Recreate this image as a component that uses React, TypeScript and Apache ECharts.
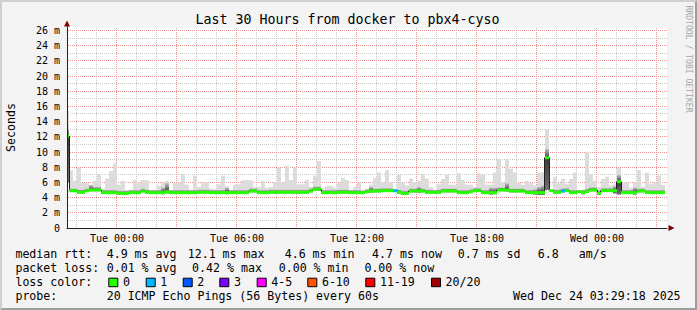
import React, { useEffect, useRef } from "react";
import * as echarts from "echarts";

// ---------- text ----------
const TITLE = "Last 30 Hours from docker to pbx4-cyso";
const Y_NAME = "Seconds";
const WATERMARK = "RRDTOOL / TOBI OETIKER";

// ---------- axes (minutes relative to Tue 00:00) ----------
const X_MIN = -150;
const X_MAX = 1650;
const Y_MIN = 0;
const Y_MAX = 26.5;
const STEP_MINUTES = 12;
const FIRST_STEP_START = -156;

const xLabelMinutes = [0, 360, 720, 1080, 1440];
const xLabelTexts = ["Tue 00:00", "Tue 06:00", "Tue 12:00", "Tue 18:00", "Wed 00:00"];
const xMajorGrid = [0, 180, 360, 540, 720, 900, 1080, 1260, 1440, 1620];
const xMinorGrid = [-120, -60, 60, 120, 240, 300, 420, 480, 600, 660, 780, 840, 960, 1020, 1140, 1200, 1320, 1380, 1500, 1560];
const yLabelValues = [0, 2, 4, 6, 8, 10, 12, 14, 16, 18, 20, 22, 24, 26];
const yMajorGrid = [2, 4, 6, 8, 10, 12, 14, 16, 18, 20, 22, 24, 26];
const yMinorGrid = [1, 3, 5, 7, 9, 11, 13, 15, 17, 19, 21, 23, 25];

// ---------- data (ms), one entry per 12-minute step ----------
const medianRtt = [
  12.1,
  4.9, 4.9, 4.7, 4.7, 4.9, 5.0, 5.0, 5.0, 4.65, 4.65,
  4.65, 4.65, 4.56, 4.56, 4.56, 4.65, 4.65, 4.65, 4.87, 4.7,
  4.65, 4.65, 4.65, 4.65, 4.78, 4.65, 4.65, 4.65, 4.65, 4.65,
  4.65, 4.65, 4.7, 4.7, 4.7, 4.65, 4.65, 4.65, 4.65, 4.65,
  4.65, 4.65, 4.65, 4.65, 4.65, 4.87, 4.87, 4.65, 4.65, 4.65,
  4.7, 4.7, 4.7, 4.7, 4.7, 4.7, 4.7, 4.7, 4.7, 4.7,
  4.87, 5.1, 5.1, 4.65, 4.65, 4.65, 4.65, 4.7, 4.7, 4.7,
  4.65, 4.65, 4.65, 4.65, 4.78, 4.87, 4.87, 4.87, 4.91, 4.91,
  4.91, 4.91, 4.7, 4.56, 4.56, 4.87, 4.87, 4.87, 4.87, 4.7,
  4.7, 4.7, 4.7, 4.87, 4.87, 4.87, 4.87, 4.65, 4.65, 4.65,
  4.78, 4.91, 4.91, 4.65, 4.65, 4.65, 4.65, 5.0, 5.0, 5.0,
  4.87, 4.87, 4.87, 4.87, 4.65, 4.65, 4.65, 4.65, 4.65, 9.25,
  4.91, 4.7, 4.7, 4.87, 4.91, 4.65, 4.65, 4.78, 4.65, 4.8,
  5.0, 5.0, 4.56, 4.91, 4.91, 4.91, 4.91, 6.1, 4.65, 4.65,
  4.65, 4.65, 4.87, 4.87, 4.65, 4.65, 4.65, 4.65, 4.65,
];

const smokeHigh = [
  15.5,
  7.6, 6.2, 7.9, 5.9, 5.9, 5.7, 6.2, 7.1, 5.2, 6.5,
  7.5, 8.5, 5.7, 6.2, 5.0, 5.0, 6.3, 5.9, 6.3, 6.3,
  5.0, 5.0, 5.6, 6.0, 6.2, 5.0, 5.9, 5.9, 7.1, 5.7,
  5.0, 6.9, 5.4, 6.0, 6.0, 5.2, 5.1, 5.75, 6.9, 5.5,
  5.0, 5.7, 5.75, 6.3, 6.3, 6.3, 5.4, 5.4, 6.2, 5.3,
  5.4, 6.0, 7.9, 6.0, 8.2, 6.3, 8.0, 5.75, 5.75, 6.3,
  5.4, 6.9, 8.8, 5.0, 5.5, 5.5, 5.3, 5.9, 6.6, 6.3,
  5.0, 5.4, 6.0, 4.95, 5.1, 5.7, 6.6, 7.3, 6.0, 7.6,
  6.0, 5.0, 7.0, 6.0, 5.6, 6.5, 6.0, 6.2, 7.1, 6.5,
  5.4, 5.0, 5.75, 6.45, 7.0, 5.7, 5.7, 7.2, 6.3, 5.7,
  5.7, 5.4, 7.2, 7.0, 5.7, 5.7, 7.3, 9.1, 6.0, 9.1,
  7.8, 7.3, 5.9, 5.7, 6.2, 5.9, 5.6, 7.3, 7.3, 12.9,
  5.0, 6.75, 5.9, 6.5, 5.75, 6.45, 7.3, 5.0, 5.0, 10.0,
  7.1, 6.2, 5.4, 6.45, 6.75, 5.6, 5.75, 7.9, 6.0, 6.0,
  5.3, 6.0, 7.6, 5.4, 7.3, 5.75, 6.0, 6.9, 5.66,
];

const smokeLow = [
  6.0,
  4.75, 4.75, 4.55, 4.55, 4.75, 4.85, 4.85, 4.85, 4.5, 4.5,
  4.5, 4.5, 4.4, 4.4, 4.4, 4.5, 4.5, 4.5, 4.7, 4.55,
  4.5, 4.5, 4.5, 4.45, 4.55, 4.5, 4.5, 4.5, 4.5, 4.5,
  4.5, 4.5, 4.55, 4.55, 4.55, 4.5, 4.5, 4.5, 4.5, 4.45,
  4.5, 4.5, 4.5, 4.5, 4.5, 4.7, 4.7, 4.5, 4.5, 4.5,
  4.55, 4.55, 4.55, 4.55, 4.55, 4.55, 4.55, 4.55, 4.55, 4.55,
  4.7, 4.95, 4.95, 4.5, 4.5, 4.5, 4.5, 4.55, 4.55, 4.55,
  4.5, 4.5, 4.5, 4.5, 4.6, 4.65, 4.7, 4.7, 4.75, 4.75,
  4.75, 4.75, 4.55, 4.4, 4.4, 4.7, 4.7, 4.65, 4.7, 4.55,
  4.55, 4.55, 4.55, 4.7, 4.7, 4.7, 4.7, 4.5, 4.5, 4.5,
  4.6, 4.75, 4.75, 4.5, 4.5, 4.4, 4.45, 4.85, 4.85, 4.8,
  4.7, 4.7, 4.7, 4.7, 4.5, 4.5, 4.4, 4.35, 4.35, 5.0,
  4.75, 4.55, 4.55, 4.7, 4.75, 4.5, 4.5, 4.6, 4.45, 4.65,
  4.85, 4.85, 4.4, 4.75, 4.75, 4.75, 4.55, 4.4, 4.5, 4.5,
  4.5, 4.4, 4.7, 4.7, 4.5, 4.5, 4.5, 4.5, 4.5,
];

const smokeCore = [
  13.1,
  5.2, 5.2, 5.05, 5.05, 5.2, 5.66, 5.4, 5.4, 5.0, 5.0,
  5.0, 5.0, 4.9, 4.9, 4.9, 5.0, 5.0, 5.0, 5.2, 5.05,
  5.0, 5.0, 5.0, 5.3, 5.9, 5.0, 5.0, 5.0, 5.0, 5.0,
  5.0, 5.0, 5.05, 5.05, 5.05, 5.0, 5.0, 5.0, 5.0, 5.3,
  5.0, 5.0, 5.0, 5.0, 5.0, 5.2, 5.2, 5.0, 5.0, 5.0,
  5.05, 5.05, 5.05, 5.05, 5.05, 5.05, 5.05, 5.05, 5.05, 5.05,
  5.2, 5.45, 5.45, 5.0, 5.0, 5.0, 5.0, 5.05, 5.05, 5.05,
  5.0, 5.0, 5.0, 4.95, 5.1, 5.4, 5.2, 5.2, 5.25, 5.25,
  5.25, 5.0, 5.05, 4.9, 4.9, 5.2, 5.2, 5.4, 5.2, 5.05,
  5.05, 5.0, 5.05, 5.2, 5.2, 5.2, 5.2, 5.0, 5.0, 5.0,
  5.1, 5.25, 5.25, 5.0, 5.0, 5.3, 5.3, 5.35, 5.35, 5.9,
  5.2, 5.2, 5.2, 5.2, 5.0, 5.0, 5.1, 5.4, 5.6, 10.4,
  5.0, 5.05, 5.05, 5.2, 5.25, 5.0, 5.0, 5.0, 5.0, 5.15,
  5.35, 5.35, 4.9, 5.25, 5.25, 5.25, 5.5, 7.0, 5.0, 5.0,
  5.0, 5.3, 5.2, 5.2, 5.0, 5.0, 5.0, 5.0, 5.0,
];

// steps with packet loss (index into the arrays above) and lost pings out of 20
const lossStepIndex = [82, 124];
const lossStepCount = [1, 1];

// ---------- legend ----------
const lossLegendLabels = ["0", "1", "2", "3", "4-5", "6-10", "11-19", "20/20"];
const lossLegendColors = ["#26ff00", "#00b8ff", "#0059ff", "#7e00ff", "#ff00ff", "#ff5500", "#ff0000", "#a10000"];
const lossLegendMax = [0, 1, 2, 3, 5, 10, 19, 20];

const rttRowLabel = "median rtt:";
const rttRowItems = ["4.9 ms avg", "12.1 ms max", "4.6 ms min", "4.7 ms now", "0.7 ms sd", "6.8", "am/s"];
const lossRowLabel = "packet loss:";
const lossRowItems = ["0.01 % avg", "0.42 % max", "0.00 % min", "0.00 % now"];
const colorRowLabel = "loss color:";
const probeRowLabel = "probe:";
const probeText = "20 ICMP Echo Pings (56 Bytes) every 60s";
const stampText = "Wed Dec 24 03:29:18 2025";

// ---------- layout ----------
const W = 697;
const H = 310;
const FONT = "DejaVu Sans Mono";
const rttRowX = [106.7, 187.7, 284.7, 372.1, 457.7, 537.7, 578.7];
const lossRowX = [106.7, 192.1, 278.7, 364.4];
const swatchX = [108.3, 145.7, 182.7, 219.3, 256.7, 307.3, 365.3, 431];
const rowY = [253.6, 267.7, 281.8, 295.9];
const GRID_GRAY = "#c8c8c8";
const GRID_RED = "#ea9292";

function lossColor(n: number) {
  for (let i = 0; i < lossLegendMax.length; i++) {
    if (n <= lossLegendMax[i]) return lossLegendColors[i];
  }
  return lossLegendColors[lossLegendColors.length - 1];
}

function buildRows() {
  const loss = medianRtt.map(() => 0);
  lossStepIndex.forEach((idx, k) => {
    loss[idx] = lossStepCount[k];
  });
  return medianRtt.map((m, i) => [
    FIRST_STEP_START + i * STEP_MINUTES,
    smokeLow[i],
    smokeCore[i],
    smokeHigh[i],
    m,
    loss[i],
  ]);
}

type GridLine = { value: number; vertical: boolean; major: boolean };
function buildGridLines(): GridLine[] {
  return [
    ...xMinorGrid.map((v) => ({ value: v, vertical: true, major: false })),
    ...yMinorGrid.map((v) => ({ value: v, vertical: false, major: false })),
    ...xMajorGrid.map((v) => ({ value: v, vertical: true, major: true })),
    ...yMajorGrid.map((v) => ({ value: v, vertical: false, major: true })),
  ];
}

function text(x: number, y: number, str: string, size: number, extra: any = {}) {
  return {
    type: "text",
    x,
    y,
    silent: true,
    rotation: extra.rotation || 0,
    style: {
      text: str,
      fill: extra.fill || "#000",
      fontSize: size,
      fontFamily: FONT,
      align: extra.align || "left",
      textAlign: extra.align || "left",
      verticalAlign: "middle",
      textVerticalAlign: "middle",
    },
    z: 10,
  };
}

function buildOption() {
  const rows = buildRows();
  const gridLines = buildGridLines();

  const stepSpan = (api: any) => {
    const t = api.value(0);
    return [Math.max(t, X_MIN), Math.min(t + STEP_MINUTES, X_MAX)];
  };

  const graphics: any[] = [];
  // 3D border
  graphics.push({
    type: "polygon",
    silent: true,
    shape: { points: [[0, H], [2, H - 2], [2, 2], [W - 2, 2], [W, 0], [0, 0]] },
    style: { fill: "#cfcfcf" },
    z: 10,
  });
  graphics.push({
    type: "polygon",
    silent: true,
    shape: { points: [[2, H - 2], [W - 2, H - 2], [W - 2, 2], [W, 0], [W, H], [0, H]] },
    style: { fill: "#9e9e9e" },
    z: 10,
  });
  // axis arrows
  graphics.push({
    type: "polygon",
    silent: true,
    shape: { points: [[64, 26.5], [70, 26.5], [67, 20.5]] },
    style: { fill: "#7f0000" },
    z: 10,
  });
  graphics.push({
    type: "polygon",
    silent: true,
    shape: { points: [[668.5, 225], [668.5, 231], [674.5, 228]] },
    style: { fill: "#7f0000" },
    z: 10,
  });
  graphics.push(text(347.5, 19, TITLE, 13.3, { align: "center" }));
  graphics.push(text(11, 127.5, Y_NAME, 11.6, { align: "center", rotation: Math.PI / 2 }));
  graphics.push(text(688.5, 59, WATERMARK, 8.1, { align: "center", rotation: -Math.PI / 2, fill: "#a8a8a8" }));

  graphics.push(text(15.4, rowY[0], rttRowLabel, 11.6));
  rttRowItems.forEach((s, i) => graphics.push(text(rttRowX[i], rowY[0], s, 11.6)));
  graphics.push(text(15.4, rowY[1], lossRowLabel, 11.6));
  lossRowItems.forEach((s, i) => graphics.push(text(lossRowX[i], rowY[1], s, 11.6)));
  graphics.push(text(15.4, rowY[2], colorRowLabel, 11.6));
  lossLegendLabels.forEach((s, i) => {
    graphics.push({
      type: "rect",
      silent: true,
      shape: { x: swatchX[i] + 0.5, y: 278.2, width: 9, height: 8.5 },
      style: { fill: lossLegendColors[i], stroke: "#000", lineWidth: 1 },
      z: 10,
    });
    graphics.push(text(swatchX[i] + 14.6, rowY[2], s, 11.6));
  });
  graphics.push(text(15.4, rowY[3], probeRowLabel, 11.6));
  graphics.push(text(106.7, rowY[3], probeText, 11.6));
  graphics.push(text(680.6, rowY[3], stampText, 11.6, { align: "right" }));

  return {
    animation: false,
    backgroundColor: "#f3f3f3",
    textStyle: { fontFamily: FONT },
    grid: {
      left: 67,
      right: 30,
      top: 26.6,
      bottom: 82,
      show: true,
      backgroundColor: "#ffffff",
      borderWidth: 0,
    },
    xAxis: {
      type: "value",
      min: X_MIN,
      max: X_MAX,
      position: "bottom",
      z: 5,
      axisLine: { show: true, onZero: false, lineStyle: { color: "#222", width: 1 } },
      axisTick: { show: false, customValues: xMajorGrid },
      axisLabel: {
        customValues: xLabelMinutes,
        formatter: (v: number) => xLabelTexts[xLabelMinutes.indexOf(v)] ?? "",
        fontFamily: FONT,
        fontSize: 10,
        color: "#000",
        margin: 5,
      },
      splitLine: { show: false },
    },
    yAxis: {
      type: "value",
      min: Y_MIN,
      max: Y_MAX,
      position: "left",
      z: 5,
      axisLine: { show: true, onZero: false, lineStyle: { color: "#222", width: 1 } },
      axisTick: { show: false, customValues: yMajorGrid },
      axisLabel: {
        customValues: yLabelValues,
        formatter: (v: number) => (v === 0 ? "0" : `${v} m`),
        fontFamily: FONT,
        fontSize: 10,
        color: "#000",
        margin: 7,
      },
      splitLine: { show: false },
    },
    series: [
      {
        name: "grid",
        type: "custom",
        coordinateSystem: "cartesian2d",
        silent: true,
        z: 1,
        data: gridLines.map((g) => [g.vertical ? g.value : X_MIN, g.vertical ? Y_MIN : g.value]),
        renderItem: (params: any, api: any) => {
          const g = gridLines[params.dataIndex];
          const [left, bottom] = api.coord([X_MIN, Y_MIN]);
          const [right, top] = api.coord([X_MAX, Y_MAX]);
          const fill = g.major ? GRID_RED : GRID_GRAY;
          const children: any[] = [];
          if (g.vertical) {
            const x = Math.round(api.coord([g.value, Y_MIN])[0]) - 1;
            for (let y = Math.round(bottom) - 2; y >= Math.ceil(top); y -= 2) {
              children.push({ type: "rect", shape: { x, y, width: 1, height: 1 }, style: { fill } });
            }
          } else {
            const y = Math.floor(api.coord([X_MIN, g.value])[1]);
            for (let x = Math.round(left) + 1; x < Math.round(right); x += 2) {
              children.push({ type: "rect", shape: { x, y, width: 1, height: 1 }, style: { fill } });
            }
          }
          return { type: "group", children };
        },
      },
      {
        name: "smoke",
        type: "custom",
        coordinateSystem: "cartesian2d",
        silent: true,
        z: 2,
        encode: { x: 0, y: [1, 3] },
        data: rows,
        renderItem: (params: any, api: any) => {
          const [t0, t1] = stepSpan(api);
          const lo = api.value(1);
          const hi = api.value(3);
          const core = Math.min(api.value(2), hi);
          const med = api.value(4);
          const [x0, yHi] = api.coord([t0, hi]);
          const [x1, yLo] = api.coord([t1, lo]);
          const yCore = api.coord([t0, core])[1];
          const yMed = api.coord([t0, med])[1];
          let f = (yMed - yCore) / Math.max(yLo - yCore, 0.001);
          f = Math.min(Math.max(f, 0), 1);
          return {
            type: "group",
            children: [
              {
                type: "rect",
                shape: { x: x0, y: yHi, width: x1 - x0, height: yLo - yHi },
                style: { fill: "#dcdcdc" },
              },
              {
                type: "rect",
                shape: { x: x0, y: yCore, width: x1 - x0, height: yLo - yCore },
                style: {
                  fill: new echarts.graphic.LinearGradient(0, 0, 0, 1, [
                    { offset: 0, color: "#c4c4c4" },
                    { offset: f, color: "#3a3a3a" },
                    { offset: 1, color: "#707070" },
                  ]),
                },
              },
            ],
          };
        },
      },
      {
        name: "median",
        type: "custom",
        coordinateSystem: "cartesian2d",
        silent: true,
        z: 3,
        encode: { x: 0, y: 4 },
        data: rows,
        renderItem: (params: any, api: any) => {
          const i = params.dataIndex;
          const [t0, t1] = stepSpan(api);
          const med = api.value(4);
          const prev = i > 0 ? medianRtt[i - 1] : med;
          const [x0, y] = api.coord([t0, med]);
          const [x1] = api.coord([t1, med]);
          const yPrev = api.coord([t0, prev])[1];
          const xv = med > prev ? x0 - 0.5 : x0 + 0.5;
          return {
            type: "polyline",
            shape: { points: [[xv, yPrev], [xv, y], [x1, y]] },
            style: { stroke: "#202020", lineWidth: 1, fill: null },
          };
        },
      },
      {
        name: "loss",
        type: "custom",
        coordinateSystem: "cartesian2d",
        silent: true,
        z: 4,
        encode: { x: 0, y: 4 },
        data: rows,
        renderItem: (params: any, api: any) => {
          const [t0, t1] = stepSpan(api);
          const med = api.value(4);
          const [x0, yTop] = api.coord([t0, med + 0.2]);
          const [x1, yBot] = api.coord([t1, med - 0.2]);
          return {
            type: "rect",
            shape: { x: x0, y: yTop, width: x1 - x0, height: yBot - yTop },
            style: { fill: lossColor(api.value(5)) },
          };
        },
      },
    ],
    graphic: { elements: graphics },
  };
}

export default function App() {
  const ref = useRef<HTMLDivElement>(null);
  useEffect(() => {
    document.body.style.margin = "0";
    const chart = echarts.init(ref.current!, null, { renderer: "svg", width: W, height: H });
    chart.setOption(buildOption() as any);
    return () => chart.dispose();
  }, []);
  return (
    <div
      ref={ref}
      style={{ position: "absolute", left: 0, top: 0, width: W, height: H }}
    />
  );
}
